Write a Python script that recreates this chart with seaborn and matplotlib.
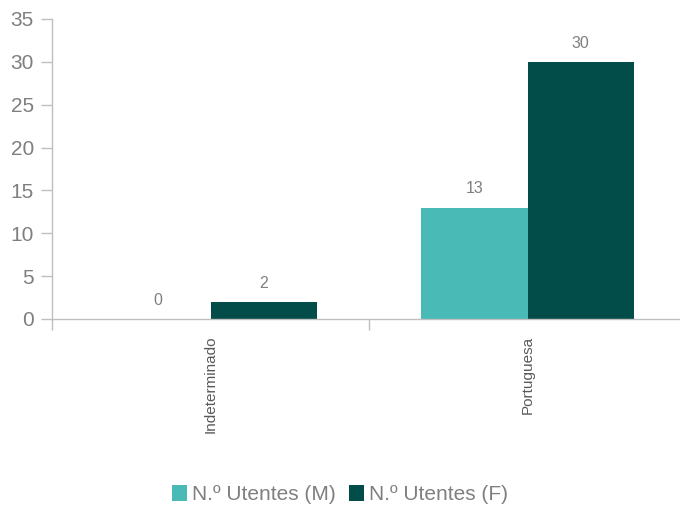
import pandas as pd
import seaborn as sns
import matplotlib.pyplot as plt

categorias = ['Indeterminado', 'Portuguesa']
utentes_m = [0, 13]
utentes_f = [2, 30]
series = ['N.º Utentes (M)', 'N.º Utentes (F)']
cores = ['#4ABAB7', '#024C4A']

df = pd.DataFrame({
    'categoria': categorias * 2,
    'valor': utentes_m + utentes_f,
    'serie': [series[0]] * len(categorias) + [series[1]] * len(categorias),
})

sns.set_style('white')
plt.rcParams['font.family'] = ['Liberation Sans', 'DejaVu Sans']

fig = plt.figure(figsize=(6.8, 5.09), dpi=100)
ax = fig.add_axes([52 / 680, 1 - 319 / 509, 634 / 680, 300 / 509])

sns.barplot(data=df, x='categoria', y='valor', hue='serie', palette=cores,
            width=0.67, gap=0, saturation=1, linewidth=0, ax=ax, legend=True)

for cont in ax.containers:
    ax.bar_label(cont, fmt='%d', padding=8, fontsize=11.5, color='#7F7F7F')

ax.set_ylim(0, 35)
ax.set_xlim(-0.5, 1.5)
ax.set_yticks(range(0, 36, 5))
ax.set_xlabel('')
ax.set_ylabel('')

gris = '#BFBFBF'
for s in ['top', 'right']:
    ax.spines[s].set_visible(False)
for s in ['left', 'bottom']:
    ax.spines[s].set_color(gris)
    ax.spines[s].set_linewidth(1.0)

ax.tick_params(axis='y', length=8, width=1, color=gris, labelsize=15,
               labelcolor='#7F7F7F', pad=5, left=True)
ax.set_xticks([0, 1])
ax.set_xticklabels(categorias, rotation=90, fontsize=11, color='#595959')
ax.tick_params(axis='x', length=0, pad=12)
ax.set_xticks([-0.5, 0.5, 1.5], minor=True)
ax.tick_params(axis='x', which='minor', length=8, width=1, color=gris, bottom=True)

handles, labels = ax.get_legend_handles_labels()
ax.legend_.remove()
fig.legend(handles, labels, loc='center', bbox_to_anchor=(0.5, 0.028),
           ncol=2, frameon=False, fontsize=15, handlelength=0.75,
           handleheight=0.75, handletextpad=0.25, columnspacing=0.6,
           labelcolor='#7F7F7F')

plt.savefig('out.png', dpi=100)
